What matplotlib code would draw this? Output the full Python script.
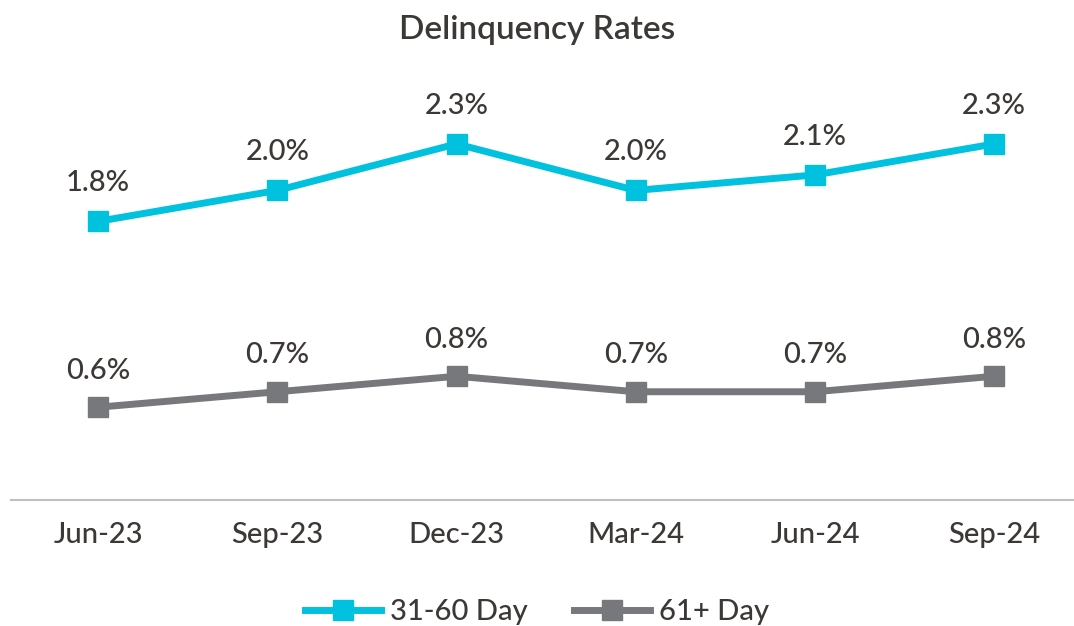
import matplotlib.pyplot as plt
import numpy as np

plt.rcParams['font.family'] = ['Lato', 'DejaVu Sans']

quarters = ['Jun-23', 'Sep-23', 'Dec-23', 'Mar-24', 'Jun-24', 'Sep-24']
d31_60 = [1.8, 2.0, 2.3, 2.0, 2.1, 2.3]
d61_plus = [0.6, 0.7, 0.8, 0.7, 0.7, 0.8]

txt = '#3b3835'
cyan = '#00c1de'
grey = '#77787b'

fig = plt.figure(figsize=(10.74, 6.26), dpi=100)
ax = fig.add_axes([0.01, 0.201, 0.99, 0.673])

x = np.arange(len(quarters))
ax.plot(x, d31_60, color=cyan, lw=5, marker='s', ms=14, label='31-60 Day')
ax.plot(x, d61_plus, color=grey, lw=5, marker='s', ms=14, label='61+ Day')

for xi, v in zip(x, d31_60):
    ax.annotate(f'{v:.1f}%', (xi, v), xytext=(0, 18), textcoords='offset points',
                ha='center', va='bottom', fontsize=21, fontweight='medium', color=txt)
for xi, v in zip(x, d61_plus):
    ax.annotate(f'{v:.1f}%', (xi, v), xytext=(0, 17), textcoords='offset points',
                ha='center', va='bottom', fontsize=21, fontweight='medium', color=txt)

ax.set_xlim(-0.487, 5.445)
ax.set_ylim(0, 2.72)
ax.set_xticks(x)
ax.set_xticklabels(quarters, fontsize=21, fontweight='medium', color=txt)
ax.tick_params(axis='x', length=0, pad=16)
ax.set_yticks([])
for s in ['top', 'right', 'left']:
    ax.spines[s].set_visible(False)
ax.spines['bottom'].set_color('#bfbfbf')
ax.spines['bottom'].set_linewidth(1.5)

fig.text(0.5, 0.952, 'Delinquency Rates', ha='center', va='center',
         fontsize=24, fontweight='semibold', color=txt)

fig.legend(loc='lower center', bbox_to_anchor=(0.5, -0.04), ncol=2, frameon=False,
           prop={'size': 21, 'weight': 'medium'}, handlelength=2.6,
           handletextpad=0.3, columnspacing=1.6, labelcolor=txt)

fig.savefig('out.png', dpi=100)
